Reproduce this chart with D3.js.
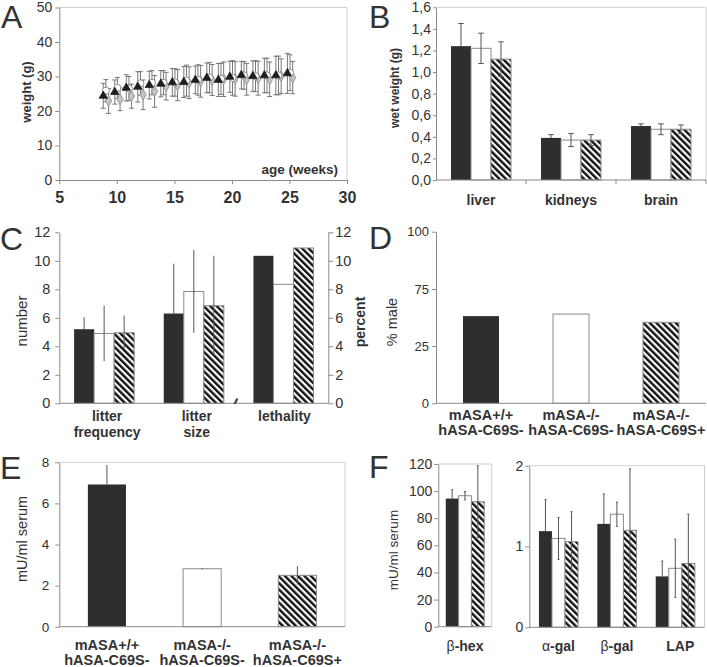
<!DOCTYPE html>
<html><head><meta charset="utf-8">
<script src="https://cdn.jsdelivr.net/npm/d3@7"></script>
<style>
body{margin:0;background:#fff}
svg, text{font-family:"Liberation Sans",Arial,sans-serif;fill:#333}
</style>
</head><body>
<svg id="c" width="707" height="667" font-family="Liberation Sans, Arial, sans-serif"></svg>
<script>
// ---------- DATA ----------
// Panel A: body weight over age
const weeks = [9,10,11,12,13,14,15,16,17,18,19,20,21,22,23,24,25];
const weightTri = [24.4,25.5,26.7,27.0,27.5,27.9,28.3,28.4,29.0,29.6,29.0,29.9,30.4,30.1,30.3,30.3,30.9];
const weightTriErr = [3.6,3.5,3.8,4.4,4.0,3.8,4.0,4.5,4.0,4.3,4.8,4.5,4.0,4.4,5.0,5.6,5.8];
const weightCirc = [25.9,26.7,26.5,28.0,28.2,28.2,28.3,28.8,29.0,29.7,29.3,29.6,30.3,30.1,30.3,30.3,31.1];
const weightCircErr = [3.2,3.0,3.5,3.4,3.5,3.5,4.0,4.5,4.4,4.4,4.5,5.0,4.0,4.5,5.0,5.6,5.2];
const weightDia = [22.9,23.4,24.3,24.7,25.7,27.2,27.5,28.2,28.6,29.0,29.2,29.3,29.2,29.5,29.2,30.1,29.7];
const weightDiaErr = [3.6,3.3,3.5,4.3,4.6,4.0,4.5,4.6,4.6,4.5,5.0,5.0,4.6,4.9,5.0,5.0,4.7];
const aYTicks = [0,10,20,30,40,50];
const aXTicks = [5,10,15,20,25,30];

// Panel B: organ wet weight
const organs = ["liver","kidneys","brain"];
const organBlack = [1.24,0.39,0.50], organBlackErr = [0.21,0.03,0.02];
const organWhite = [1.22,0.37,0.47], organWhiteErr = [0.14,0.06,0.05];
const organHatch = [1.12,0.37,0.47], organHatchErr = [0.16,0.05,0.04];
const bYTicks = [0,0.2,0.4,0.6,0.8,1.0,1.2,1.4,1.6];

// Panel C: breeding
const breedCats = [["litter","frequency"],["litter","size"],["lethality"]];
const breedBlack = [5.2,6.3,10.35], breedBlackErr = [0.85,3.5,null];
const breedWhite = [4.9,7.85,8.35], breedWhiteErr = [1.95,2.9,null];
const breedHatch = [4.95,6.85,10.9], breedHatchErr = [1.2,3.5,null];
const cYTicks = [0,2,4,6,8,10,12];

// Panel D: % male
const genotypes = [["mASA+/+","hASA-C69S-"],["mASA-/-","hASA-C69S-"],["mASA-/-","hASA-C69S+"]];
const pctMale = [50.8,52.0,47.2];
const dTickLabels = ["0","25","75","100"];

// Panel E: ASA activity
const asaActivity = [6.92,2.82,2.5];
const asaErr = [0.95,0.03,0.45];
const eYTicks = [0,2,4,6,8];

// Panel F: other lysosomal enzymes
const hexCats = ["β-hex"];
const hexBlack = [94.5], hexBlackErr = [6.5];
const hexWhite = [96.6], hexWhiteErr = [3.0];
const hexHatch = [92.2], hexHatchErr = [26.5];
const fLeftTicks = [0,20,40,60,80,100,120];
const enzCats = ["α-gal","β-gal","LAP"];
const enzBlack = [1.19,1.28,0.63], enzBlackErr = [0.39,0.37,0.19];
const enzWhite = [1.10,1.40,0.73], enzWhiteErr = [0.26,0.15,0.36];
const enzHatch = [1.06,1.20,0.79], enzHatchErr = [0.37,0.76,0.61];
const fRightTicks = [0,1,2];

// ---------- STYLE ----------
const FONT = "'Liberation Sans', Arial, sans-serif";
const svg = d3.select("#c");
const defs = svg.append("defs");
const pat = defs.append("pattern").attr("id","hatch").attr("patternUnits","userSpaceOnUse")
  .attr("width",4.6).attr("height",4.6).attr("patternTransform","rotate(-45)");
pat.append("rect").attr("width",4.6).attr("height",4.6).attr("fill","#fff");
pat.append("rect").attr("width",2.4).attr("height",4.6).attr("fill","#111");
const FILL = ["#2e2e2e","#ffffff","url(#hatch)"];
const STROKE = ["none","#8a8a8a","#8a8a8a"];
const AX = "#8a8a8a", FRAME = "#cfcfcf";

function T(sel){ return sel.style("font-family",FONT).attr("fill","#333"); }
function styleAxis(g, fs, bold) {
  g.attr("font-family",null);
  g.select(".domain").attr("stroke", AX);
  g.selectAll(".tick line").attr("stroke", AX);
  T(g.selectAll(".tick text")).style("font-size", fs+"px")
    .style("font-weight", bold ? "bold" : "normal");
}
function letter(t, x, y) {
  T(svg.append("text")).attr("x",x).attr("y",y).text(t).style("font-size","32px");
}
function ylabel(t, x, y, fs, bold) {
  T(svg.append("text")).attr("transform",`translate(${x},${y}) rotate(-90)`).attr("text-anchor","middle")
    .style("font-size",fs+"px").style("font-weight",bold?"bold":"normal").text(t);
}
function multiLabel(lines, x, y, fs, lh) {
  const t = T(svg.append("text")).attr("text-anchor","middle").style("font-size",fs+"px").style("font-weight","bold");
  lines.forEach((l,i)=> t.append("tspan").attr("x",x).attr("y",y+i*lh).text(l));
}

// generic grouped bar panel
function barPanel(p) {
  const g = svg.append("g");
  const x = d3.scaleBand().domain(p.cats.map((c,i)=>i)).range([p.left,p.right]);
  const y = d3.scaleLinear().domain(p.yDomain).range([p.bottom,p.top]);
  if (p.frame) g.append("path").attr("d",`M${p.left},${p.top}H${p.right}V${p.bottom}`)
    .attr("fill","none").attr("stroke",FRAME);
  const ns = p.series.length;
  const gw = x.bandwidth()*p.groupFrac;
  const inner = d3.scaleBand().domain(d3.range(ns)).range([0,gw]);
  const off = (x.bandwidth()-gw)/2;
  p.series.forEach((s, si) => {
    s.values.forEach((v, ci) => {
      const st = p.colorByCat ? ci : si;
      const x0 = x(ci)+off+inner(si);
      g.append("rect").attr("x",x0).attr("y",y(v)).attr("width",inner.bandwidth())
        .attr("height",y(0)-y(v)).attr("fill",FILL[st]).attr("stroke",STROKE[st]).attr("stroke-width",1);
    });
  });
  p.series.forEach((s, si) => {
    if (!s.errs) return;
    s.values.forEach((v, ci) => {
      const e = s.errs[ci]; if (e==null) return;
      const st = p.colorByCat ? ci : si;
      const cx = x(ci)+off+inner(si)+inner.bandwidth()/2;
      const lo = st===0 ? v : v-e;
      g.append("line").attr("x1",cx).attr("x2",cx).attr("y1",y(v+e)).attr("y2",y(lo))
        .attr("stroke","#555").attr("stroke-width",1);
      if (p.cap) {
        g.append("line").attr("x1",cx-p.cap).attr("x2",cx+p.cap).attr("y1",y(v+e)).attr("y2",y(v+e))
          .attr("stroke","#555").attr("stroke-width",1);
        if (st!==0) g.append("line").attr("x1",cx-p.cap).attr("x2",cx+p.cap).attr("y1",y(v-e)).attr("y2",y(v-e))
          .attr("stroke","#555").attr("stroke-width",1);
      }
    });
  });
  g.append("line").attr("x1",p.left).attr("x2",p.right).attr("y1",p.bottom).attr("y2",p.bottom).attr("stroke",AX);
  if (p.catTicks) x.domain().forEach(i => g.append("line").attr("x1",x(i)+x.bandwidth()).attr("x2",x(i)+x.bandwidth())
      .attr("y1",p.bottom).attr("y2",p.bottom+4).attr("stroke",AX));
  if (p.yTicks) {
    const ya = g.append("g").attr("transform",`translate(${p.left},0)`)
      .call(d3.axisLeft(y).tickValues(p.yTicks).tickFormat(p.fmt||d3.format("d")).tickSize(p.tickSize||4).tickSizeOuter(0).tickPadding(p.pad||3));
    styleAxis(ya, p.fs||14, false);
  }
  return {x, y, off, gw};
}

// ---------- PANEL A ----------
(function(){
  const L=59.3,R=347,Tp=7.5,B=180;
  const x = d3.scaleLinear().domain([5,30]).range([L,R]);
  const y = d3.scaleLinear().domain([0,50]).range([B,Tp]);
  svg.append("path").attr("d",`M${L},${Tp}H${R}V${B}`).attr("fill","none").attr("stroke",FRAME);
  const ya = svg.append("g").attr("transform",`translate(${L},0)`)
    .call(d3.axisLeft(y).tickValues(aYTicks).tickSize(4).tickSizeOuter(0).tickPadding(3));
  styleAxis(ya,14,false);
  const xa = svg.append("g").attr("transform",`translate(0,${B})`)
    .call(d3.axisBottom(x).tickValues(aXTicks).tickSize(4).tickSizeOuter(0).tickPadding(8));
  styleAxis(xa,16,true);
  const series = [
    {v:weightDia, e:weightDiaErr, off:0.28, sym:d3.symbolDiamond, size:34, fill:"#c4c4c4", stroke:"#8a8a8a"},
    {v:weightCirc, e:weightCircErr, off:0.05, sym:d3.symbolCircle, size:40, fill:"#fff", stroke:"#777"},
    {v:weightTri, e:weightTriErr, off:-0.18, sym:d3.symbolTriangle, size:30, fill:"#1e1e1e", stroke:"#1e1e1e"}
  ];
  const eg = svg.append("g").attr("stroke","#6a6a6a").attr("stroke-width",0.9);
  series.forEach(s => weeks.forEach((w,i)=>{
    const cx = x(w+s.off), y1=y(s.v[i]+s.e[i]), y2=y(s.v[i]-s.e[i]);
    eg.append("line").attr("x1",cx).attr("x2",cx).attr("y1",y1).attr("y2",y2);
    eg.append("line").attr("x1",cx-2.5).attr("x2",cx+2.5).attr("y1",y1).attr("y2",y1);
    eg.append("line").attr("x1",cx-2.5).attr("x2",cx+2.5).attr("y1",y2).attr("y2",y2);
  }));
  series.forEach(s => weeks.forEach((w,i)=>{
    svg.append("path").attr("d",d3.symbol().type(s.sym).size(s.size)())
      .attr("transform",`translate(${x(w+s.off)},${y(s.v[i])})`)
      .attr("fill",s.fill).attr("stroke",s.stroke).attr("stroke-width",0.8);
  }));
  T(svg.append("text")).attr("x",338).attr("y",174).attr("text-anchor","end")
    .style("font-size","13.5px").style("font-weight","bold").text("age (weeks)");
  ylabel("weight (g)",31,92,13,true);
  letter("A",1,28);
})();

// ---------- PANEL B ----------
(function(){
  const p = barPanel({left:436,right:706,top:7.3,bottom:180,cats:organs,yDomain:[0,1.6],yTicks:bYTicks,
    fmt:d=>d3.format(".1f")(d).replace(".",","),tickSize:3,pad:2,fs:14,groupFrac:0.667,cap:2.8,frame:true,catTicks:true,
    series:[{values:organBlack,errs:organBlackErr},{values:organWhite,errs:organWhiteErr},{values:organHatch,errs:organHatchErr}]});
  organs.forEach((o,i)=> T(svg.append("text")).attr("x",p.x(i)+p.x.bandwidth()/2).attr("y",205).attr("text-anchor","middle")
    .style("font-size","14px").style("font-weight","bold").text(o));
  ylabel("wet weight (g)",399,88,12,true);
  letter("B",369,28);
})();

// ---------- PANEL C ----------
(function(){
  const p = barPanel({left:59.3,right:328.3,top:232.3,bottom:403.3,cats:breedCats,yDomain:[0,12],yTicks:cYTicks,
    tickSize:4,pad:5,fs:14.5,groupFrac:0.67,cap:0,
    series:[{values:breedBlack,errs:breedBlackErr},{values:breedWhite,errs:breedWhiteErr},{values:breedHatch,errs:breedHatchErr}]});
  const ra = svg.append("g").attr("transform","translate(328.3,0)")
    .call(d3.axisRight(p.y).tickValues(cYTicks).tickSize(5).tickSizeOuter(0).tickPadding(2));
  styleAxis(ra,14.5,false);
  breedCats.forEach((c,i)=> multiLabel(c,p.x(i)+p.x.bandwidth()/2+(i===2?1:3),421,14,16));
  svg.append("path").attr("d","M233.5,404 L236,398.5 L238.5,398.5 L236,404 Z").attr("fill","#444");
  ylabel("number",27,321,15,false);
  ylabel("percent",365,322,14,true);
  letter("C",0,250);
})();

// ---------- PANEL D ----------
(function(){
  const p = barPanel({left:436,right:706,top:231.7,bottom:403.3,cats:genotypes,yDomain:[0,100],yTicks:null,
    groupFrac:0.4,colorByCat:true,series:[{values:pctMale,errs:null}]});
  const tp = d3.scalePoint().domain(dTickLabels).range([403.3,231.7]);
  const ya = svg.append("g").attr("transform","translate(436,0)")
    .call(d3.axisLeft(tp).tickSize(4).tickSizeOuter(0).tickPadding(3));
  styleAxis(ya,13,false);
  genotypes.forEach((c,i)=> multiLabel(c,p.x(i)+p.x.bandwidth()/2,420,14.5,15));
  ylabel("% male",397,322,14.5,false);
  letter("D",369,249);
})();

// ---------- PANEL E ----------
(function(){
  const p = barPanel({left:59.3,right:345,top:462.3,bottom:626.7,cats:genotypes,yDomain:[0,8],yTicks:eYTicks,
    tickSize:4,pad:6,fs:13.5,groupFrac:0.4,colorByCat:true,cap:0,frame:true,
    series:[{values:asaActivity,errs:asaErr}]});
  genotypes.forEach((c,i)=> multiLabel(c,p.x(i)+p.x.bandwidth()/2,650,14.5,15));
  ylabel("mU/ml serum",27,539,14.5,false);
  letter("E",0,479);
})();

// ---------- PANEL F ----------
(function(){
  const p1 = barPanel({left:438.3,right:491.7,top:464,bottom:626.7,cats:hexCats,yDomain:[0,120],yTicks:fLeftTicks,
    tickSize:4,pad:2,fs:14,groupFrac:0.72,cap:1,frame:true,
    series:[{values:hexBlack,errs:hexBlackErr},{values:hexWhite,errs:hexWhiteErr},{values:hexHatch,errs:hexHatchErr}]});
  const p2 = barPanel({left:529.3,right:704.5,top:465.7,bottom:627.3,cats:enzCats,yDomain:[0,2],yTicks:fRightTicks,
    tickSize:4,pad:2,fs:14,groupFrac:0.67,cap:1,frame:true,
    series:[{values:enzBlack,errs:enzBlackErr},{values:enzWhite,errs:enzWhiteErr},{values:enzHatch,errs:enzHatchErr}]});
  function greekLabel(s, x, y) {
    const t = T(svg.append("text")).attr("x",x).attr("y",y).attr("text-anchor","middle").style("font-size","14px");
    t.append("tspan").text(s.slice(0,1));
    t.append("tspan").style("font-weight","bold").text(s.slice(1));
  }
  hexCats.forEach((c,i)=> greekLabel(c,p1.x(i)+p1.x.bandwidth()/2,651));
  enzCats.forEach((c,i)=> {
    if (c==="LAP") T(svg.append("text")).attr("x",p2.x(i)+p2.x.bandwidth()/2+5).attr("y",651).attr("text-anchor","middle")
      .style("font-size","14px").style("font-weight","bold").text(c);
    else greekLabel(c,p2.x(i)+p2.x.bandwidth()/2,651);
  });
  ylabel("mU/ml serum",398,550,13.5,false);
  letter("F",369,478);
})();
</script>
</body></html>
